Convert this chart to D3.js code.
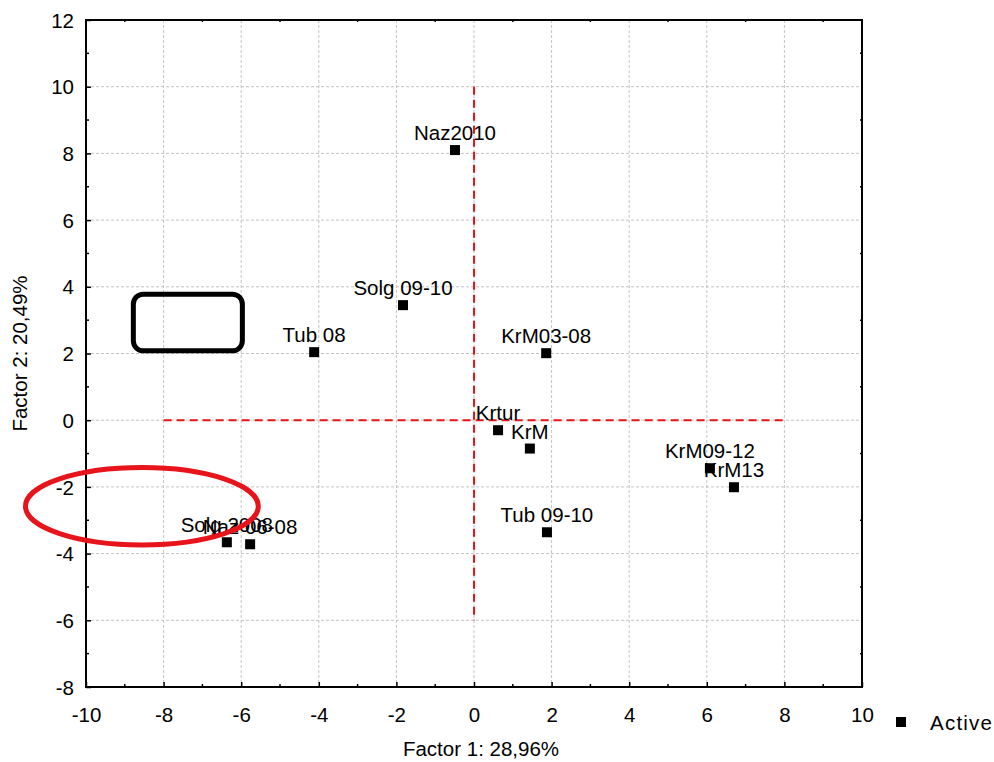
<!DOCTYPE html>
<html>
<head>
<meta charset="utf-8">
<script src="https://cdn.jsdelivr.net/npm/d3@7"></script>
<style>
  html, body { margin: 0; padding: 0; background: #fff; }
  svg text { font-family: Arial, "Liberation Sans", sans-serif; fill: #000; }
</style>
</head>
<body>
<svg id="chart" width="994" height="762"></svg>
<script>
// ---- data ----
const labels = ["Naz2010", "Solg 09-10", "Tub 08", "KrM03-08", "Krtur", "KrM", "KrM09-12", "KrM13", "Tub 09-10", "Solg 2008", "Naz 06-08"];
const factor1 = [-0.49, -1.83, -4.12, 1.86, 0.62, 1.44, 6.08, 6.70, 1.88, -6.37, -5.77];
const factor2 = [8.10, 3.45, 2.04, 2.01, -0.30, -0.85, -1.44, -2.01, -3.36, -3.66, -3.72];
const xTicks = [-10, -8, -6, -4, -2, 0, 2, 4, 6, 8, 10];
const yTicks = [-8, -6, -4, -2, 0, 2, 4, 6, 8, 10, 12];
const xTitle = "Factor 1: 28,96%";
const yTitle = "Factor 2: 20,49%";
const legendLabel = "Active";
// reference lines (data coords)
const hRefLine = { y: 0, x1: -8, x2: 8 };
const vRefLine = { x: 0, y1: 10, y2: -6 };
// annotations (data coords)
const ellipseNote = { cx: -8.56, cy: -2.58, rx: 3.0, ry: 1.16 };
const rectNote = { x1: -8.78, x2: -5.97, y1: 3.78, y2: 2.08 };

const svg = d3.select("#chart");
const L = 86, R = 862, T = 20, B = 687;
const x = d3.scaleLinear().domain([-10, 10]).range([L, R]);
const y = d3.scaleLinear().domain([-8, 12]).range([B, T]);
const fs = 20.5;
const fmt = d => String(d);

// grid
const grid = svg.append("g");
grid.selectAll("line.gx").data(xTicks.slice(1, -1)).enter().append("line")
  .attr("x1", d => x(d)).attr("x2", d => x(d)).attr("y1", T).attr("y2", B)
  .attr("stroke", "#c4c4c4").attr("stroke-width", 1).attr("stroke-dasharray", "3,2");
grid.selectAll("line.gy").data(yTicks.slice(1, -1)).enter().append("line")
  .attr("y1", d => y(d)).attr("y2", d => y(d)).attr("x1", L).attr("x2", R)
  .attr("stroke", "#c4c4c4").attr("stroke-width", 1).attr("stroke-dasharray", "3,2");

// red reference lines
svg.append("line").attr("x1", x(hRefLine.x1)).attr("x2", x(hRefLine.x2))
  .attr("y1", y(hRefLine.y)).attr("y2", y(hRefLine.y))
  .attr("stroke", "#e8141c").attr("stroke-width", 2).attr("stroke-dasharray", "8,5");
svg.append("line").attr("x1", x(vRefLine.x)).attr("x2", x(vRefLine.x))
  .attr("y1", y(vRefLine.y1)).attr("y2", y(vRefLine.y2))
  .attr("stroke", "#e8141c").attr("stroke-width", 2).attr("stroke-dasharray", "8,5");

// axes with inward ticks
const minorX = d3.range(-9, 10, 2), minorY = d3.range(-7, 12, 2);
const axB = svg.append("g").attr("transform", `translate(0,${B})`)
  .call(d3.axisBottom(x).tickValues(xTicks).tickSizeInner(-5).tickSizeOuter(0).tickFormat(fmt));
const axL = svg.append("g").attr("transform", `translate(${L},0)`)
  .call(d3.axisLeft(y).tickValues(yTicks).tickSizeInner(-5).tickSizeOuter(0).tickFormat(fmt));
[axB, axL].forEach(a => {
  a.select(".domain").remove();
  a.selectAll("line").attr("stroke", "#000").attr("stroke-width", 1.5);
  a.selectAll("text").attr("font-size", fs).attr("font-family", "Arial, 'Liberation Sans', sans-serif");
});
axB.selectAll("text").attr("dy", "0.71em").attr("y", 20);
axL.selectAll("text").attr("x", -12).attr("dy", "0.35em");
// minor ticks
svg.append("g").selectAll("line").data(minorX).enter().append("line")
  .attr("x1", d => x(d)).attr("x2", d => x(d)).attr("y1", B).attr("y2", B - 3)
  .attr("stroke", "#000").attr("stroke-width", 1.5);
svg.append("g").selectAll("line").data(minorY).enter().append("line")
  .attr("y1", d => y(d)).attr("y2", d => y(d)).attr("x1", L).attr("x2", L + 3)
  .attr("stroke", "#000").attr("stroke-width", 1.5);
svg.append("g").selectAll("line").data(minorX).enter().append("line")
  .attr("x1", d => x(d)).attr("x2", d => x(d)).attr("y1", T).attr("y2", T + 2)
  .attr("stroke", "#000").attr("stroke-width", 1.5);
svg.append("g").selectAll("line").data(minorY).enter().append("line")
  .attr("y1", d => y(d)).attr("y2", d => y(d)).attr("x1", R).attr("x2", R - 2)
  .attr("stroke", "#000").attr("stroke-width", 1.5);

// frame
svg.append("rect").attr("x", L).attr("y", T).attr("width", R - L).attr("height", B - T)
  .attr("fill", "none").attr("stroke", "#000").attr("stroke-width", 2);

// points
const pts = labels.map((l, i) => ({ label: l, fx: factor1[i], fy: factor2[i] }));
svg.append("g").selectAll("text").data(pts).enter().append("text")
  .attr("x", d => x(d.fx)).attr("y", d => y(d.fy) - 10)
  .attr("text-anchor", "middle").attr("font-size", fs).text(d => d.label);
svg.append("g").selectAll("rect").data(pts).enter().append("rect")
  .attr("x", d => x(d.fx) - 5).attr("y", d => y(d.fy) - 5)
  .attr("width", 10).attr("height", 10).attr("fill", "#000");

// annotations
svg.append("ellipse")
  .attr("cx", x(ellipseNote.cx)).attr("cy", y(ellipseNote.cy))
  .attr("rx", x(ellipseNote.cx + ellipseNote.rx) - x(ellipseNote.cx))
  .attr("ry", y(ellipseNote.cy - ellipseNote.ry) - y(ellipseNote.cy))
  .attr("fill", "none").attr("stroke", "#e8141c").attr("stroke-width", 5);
svg.append("rect")
  .attr("x", x(rectNote.x1)).attr("y", y(rectNote.y1))
  .attr("width", x(rectNote.x2) - x(rectNote.x1)).attr("height", y(rectNote.y2) - y(rectNote.y1))
  .attr("rx", 10).attr("ry", 10)
  .attr("fill", "none").attr("stroke", "#000").attr("stroke-width", 5);

// titles
svg.append("text").attr("x", 481).attr("y", 756).attr("text-anchor", "middle")
  .attr("font-size", fs).text(xTitle);
svg.append("text").attr("transform", `translate(27,${(T + B) / 2}) rotate(-90)`)
  .attr("text-anchor", "middle").attr("font-size", fs).text(yTitle);

// legend
svg.append("rect").attr("x", 896).attr("y", 717).attr("width", 10).attr("height", 10).attr("fill", "#000");
svg.append("text").attr("x", 930).attr("y", 730).attr("font-size", fs)
  .attr("textLength", 62).attr("lengthAdjust", "spacing").text(legendLabel);
</script>
</body>
</html>
